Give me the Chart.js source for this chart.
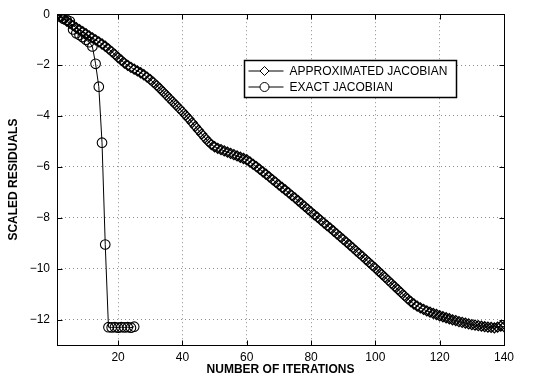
<!DOCTYPE html>
<html>
<head>
<meta charset="utf-8">
<script src="https://cdn.jsdelivr.net/npm/chart.js@4.4.0/dist/chart.umd.min.js"></script>
<style>
    body { margin: 0; background: #fff; }
</style>
</head>
<body>
<canvas id="residualChart" width="536" height="380"></canvas>
<script>
// Подписи серий
const approxLabel = 'APPROXIMATED JACOBIAN';
const exactLabel = 'EXACT JACOBIAN';

// Отметки осей
const xTicks = [20, 40, 60, 80, 100, 120, 140];
const yTicks = [0, -2, -4, -6, -8, -10, -12];

// Невязки, итерации 1..140
const approxResiduals = [
    0, -0.08, -0.18, -0.27, -0.36, -0.45, -0.53, -0.61, -0.69, -0.77,
    -0.85, -0.93, -1.01, -1.09, -1.17, -1.26, -1.36, -1.47, -1.58, -1.7,
    -1.81, -1.92, -2.01, -2.09, -2.16, -2.23, -2.3, -2.38, -2.47, -2.57,
    -2.68, -2.8, -2.92, -3.05, -3.18, -3.31, -3.44, -3.57, -3.7, -3.83,
    -3.97, -4.11, -4.26, -4.41, -4.56, -4.71, -4.86, -5.0, -5.12, -5.21,
    -5.27, -5.32, -5.37, -5.42, -5.47, -5.52, -5.57, -5.62, -5.67, -5.72,
    -5.81, -5.9, -5.99, -6.09, -6.19, -6.29, -6.39, -6.5, -6.6, -6.71,
    -6.81, -6.91, -7.01, -7.12, -7.22, -7.33, -7.44, -7.55, -7.66, -7.77,
    -7.88, -7.98, -8.09, -8.2, -8.31, -8.41, -8.52, -8.63, -8.74, -8.85,
    -8.96, -9.07, -9.18, -9.3, -9.41, -9.52, -9.64, -9.75, -9.87, -9.98,
    -10.1, -10.22, -10.34, -10.46, -10.58, -10.7, -10.82, -10.94, -11.06, -11.18,
    -11.29, -11.39, -11.47, -11.54, -11.6, -11.66, -11.71, -11.76, -11.8, -11.85,
    -11.89, -11.93, -11.97, -12.01, -12.04, -12.08, -12.11, -12.14, -12.17, -12.2,
    -12.22, -12.24, -12.26, -12.28, -12.3, -12.31, -12.33, -12.3, -12.26, -12.28
];

// Невязки, итерации 1..25
const exactResiduals = [
    0, -0.1, -0.18, -0.22, -0.28, -0.6, -0.75, -0.82, -0.9, -1.0,
    -1.1, -1.27, -1.95, -2.85, -5.05, -9.05, -12.3, -12.31, -12.3, -12.32,
    -12.3, -12.31, -12.3, -12.32, -12.28
];

const fontFamily = '"Liberation Sans", Arial, sans-serif';

function toPoints(arr) {
    return arr.map((v, i) => ({ x: i + 1, y: v }));
}

// Рамка, внутренние засечки и легенда как в MATLAB
const matlabFrame = {
    id: 'matlabFrame',
    afterDraw(chart) {
        const ctx = chart.ctx;
        const a = chart.chartArea;
        const xs = chart.scales.x;
        const ys = chart.scales.y;
        const L = Math.round(a.left) + 0.5;
        const R = Math.round(a.right) + 0.5;
        const T = Math.round(a.top) + 0.5;
        const B = Math.round(a.bottom) + 0.5;

        ctx.save();
        ctx.strokeStyle = '#000';
        ctx.lineWidth = 1;
        ctx.setLineDash([]);
        ctx.strokeRect(L, T, R - L, B - T);

        ctx.beginPath();
        xTicks.forEach(v => {
            const px = Math.round(xs.getPixelForValue(v)) + 0.5;
            ctx.moveTo(px, B); ctx.lineTo(px, B - 5);
            ctx.moveTo(px, T); ctx.lineTo(px, T + 5);
        });
        yTicks.forEach(v => {
            const py = Math.round(ys.getPixelForValue(v)) + 0.5;
            ctx.moveTo(L, py); ctx.lineTo(L + 5, py);
            ctx.moveTo(R, py); ctx.lineTo(R - 5, py);
        });
        ctx.stroke();

        // Легенда
        const bx = 244.5, by = 60.5, bw = 212, bh = 37;
        ctx.fillStyle = '#fff';
        ctx.fillRect(bx, by, bw, bh);
        ctx.lineWidth = 1.5;
        ctx.strokeRect(bx, by, bw, bh);
        ctx.lineWidth = 1;
        ctx.font = '12px ' + fontFamily;
        ctx.textBaseline = 'middle';
        chart.data.datasets.forEach((ds, i) => {
            const cy = by + 10.5 + i * 16;
            const mx = bx + 20;
            ctx.beginPath();
            ctx.moveTo(bx + 4, cy);
            ctx.lineTo(bx + 39, cy);
            ctx.stroke();
            ctx.beginPath();
            if (ds.pointStyle === 'rectRot') {
                ctx.moveTo(mx, cy - 4.5);
                ctx.lineTo(mx + 4.5, cy);
                ctx.lineTo(mx, cy + 4.5);
                ctx.lineTo(mx - 4.5, cy);
                ctx.closePath();
            } else {
                ctx.arc(mx, cy, 4.5, 0, Math.PI * 2);
            }
            ctx.fillStyle = '#fff';
            ctx.fill();
            ctx.stroke();
            ctx.fillStyle = '#000';
            ctx.fillText(ds.label, bx + 45, cy + 0.5);
        });
        ctx.restore();
    }
};

const data = {
    datasets: [
        {
            label: approxLabel,
            data: toPoints(approxResiduals),
            borderColor: '#000',
            backgroundColor: 'rgba(0,0,0,0)',
            borderWidth: 1,
            pointStyle: 'rectRot',
            pointRadius: 5,
            pointBorderWidth: 1.3,
            pointBorderColor: '#000',
            pointBackgroundColor: 'rgba(0,0,0,0)'
        },
        {
            label: exactLabel,
            data: toPoints(exactResiduals),
            borderColor: '#000',
            backgroundColor: 'rgba(0,0,0,0)',
            borderWidth: 1,
            pointStyle: 'circle',
            pointRadius: 4.8,
            pointBorderWidth: 1.1,
            pointBorderColor: '#000',
            pointBackgroundColor: 'rgba(0,0,0,0)'
        }
    ]
};

const gridStyle = {
    color: 'rgba(0,0,0,0.45)',
    lineWidth: 1,
    drawTicks: false
};

const config = {
    type: 'line',
    data,
    options: {
        responsive: false,
        animation: false,
        layout: {
            padding: { left: 0, top: 7, right: 32, bottom: 0 }
        },
        plugins: {
            legend: { display: false },
            tooltip: { enabled: false }
        },
        scales: {
            x: {
                type: 'linear',
                min: 1,
                max: 140,
                afterBuildTicks: s => { s.ticks = xTicks.map(v => ({ value: v })); },
                afterFit: s => { s.height = 35; },
                grid: gridStyle,
                border: { display: false, dash: [1, 3] },
                ticks: {
                    color: '#000',
                    padding: 5,
                    maxRotation: 0,
                    font: { family: fontFamily, size: 12 }
                },
                title: {
                    display: true,
                    text: 'NUMBER OF ITERATIONS',
                    color: '#000',
                    padding: { top: 0, bottom: 3 },
                    font: { family: fontFamily, size: 12, weight: 'bold' }
                }
            },
            y: {
                type: 'linear',
                min: -13,
                max: 0,
                afterBuildTicks: s => { s.ticks = yTicks.map(v => ({ value: v })); },
                afterFit: s => { s.width = 57; },
                grid: gridStyle,
                border: { display: false, dash: [1, 3] },
                ticks: {
                    color: '#000',
                    padding: 7,
                    font: { family: fontFamily, size: 12 },
                    callback: v => v < 0 ? '\u2212' + Math.abs(v) : String(v)
                },
                title: {
                    display: true,
                    text: 'SCALED RESIDUALS',
                    color: '#000',
                    padding: { top: 6, bottom: 0 },
                    font: { family: fontFamily, size: 12, weight: 'bold' }
                }
            }
        }
    },
    plugins: [matlabFrame]
};

const residualChart = new Chart(
    document.getElementById('residualChart'),
    config
);
</script>
</body>
</html>
